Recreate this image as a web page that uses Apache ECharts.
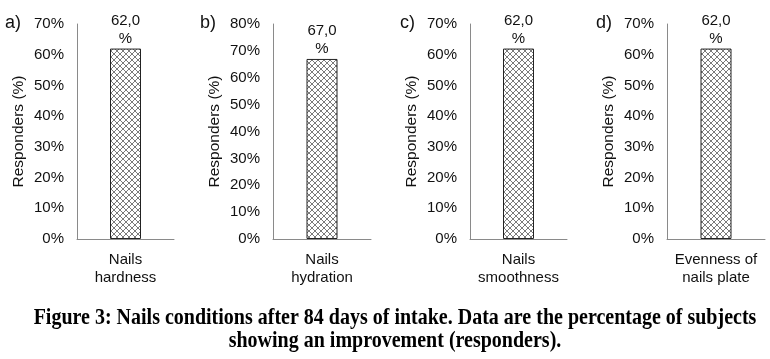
<!DOCTYPE html>
<html><head><meta charset="utf-8">
<script src="https://cdn.jsdelivr.net/npm/echarts@6/dist/echarts.min.js"></script>
<style>html,body{margin:0;padding:0;background:#fff}#c{width:770px;height:359px}</style>
</head><body><div id="c"></div>
<script>
var panelLetters = ['a)', 'b)', 'c)', 'd)'];
var categoriesA = ['Nails\nhardness'];
var categoriesB = ['Nails\nhydration'];
var categoriesC = ['Nails\nsmoothness'];
var categoriesD = ['Evenness of\nnails plate'];
var valuesA = [62.0];
var valuesB = [67.0];
var valuesC = [62.0];
var valuesD = [62.0];
var yMaxes = [70, 80, 70, 70];
var caption = 'Figure 3: Nails conditions after 84 days of intake. Data are the percentage of subjects\nshowing an improvement (responders).';

var cats = [categoriesA, categoriesB, categoriesC, categoriesD];
var vals = [valuesA, valuesB, valuesC, valuesD];

// crosshatch pattern
var pc = document.createElement('canvas');
pc.width = 6; pc.height = 6;
var g = pc.getContext('2d');
g.fillStyle = '#fff'; g.fillRect(0, 0, 6, 6);
g.strokeStyle = '#7a7a7a'; g.lineWidth = 1;
g.beginPath();
g.moveTo(-1, -1); g.lineTo(7, 7);
g.moveTo(-1, 7); g.lineTo(7, -1);
g.moveTo(5, -1); g.lineTo(7, 1);
g.moveTo(-1, 5); g.lineTo(1, 7);
g.moveTo(-1, 1); g.lineTo(1, -1);
g.moveTo(5, 7); g.lineTo(7, 5);
g.stroke();

var gridLeft = [77, 273, 470, 667];
var gridWidth = [97, 98, 97, 98];
var letterX = [5, 200, 400, 596];
var font = 'Liberation Sans, Arial, sans-serif';

var grids = [], xAxes = [], yAxes = [], series = [], graphics = [];
for (var i = 0; i < 4; i++) {
  grids.push({left: gridLeft[i], width: gridWidth[i], top: 24, height: 215});
  xAxes.push({
    type: 'category', gridIndex: i, data: cats[i],
    axisLine: {lineStyle: {color: '#8a8a8a', width: 1}},
    axisTick: {show: false},
    axisLabel: {color: '#111', fontFamily: font, fontSize: 15, lineHeight: 18, margin: 12}
  });
  yAxes.push({
    type: 'value', gridIndex: i, min: 0, max: yMaxes[i], interval: 10,
    splitLine: {show: false},
    axisLine: {show: true, lineStyle: {color: '#8a8a8a', width: 1}},
    axisTick: {show: false},
    axisLabel: {color: '#111', fontFamily: font, fontSize: 15, margin: 13, formatter: '{value}%'},
    name: 'Responders (%)', nameLocation: 'middle', nameGap: 50,
    nameTextStyle: {color: '#111', fontFamily: font, fontSize: 15.5}
  });
  series.push({
    type: 'bar', xAxisIndex: i, yAxisIndex: i, data: vals[i], barWidth: 31,
    itemStyle: {color: {image: pc, repeat: 'repeat'}, borderColor: '#222', borderWidth: 1},
    label: {show: true, position: 'top', distance: 1, color: '#111', fontFamily: font, fontSize: 15, lineHeight: 18,
      formatter: function (p) { return p.value.toFixed(1).replace('.', ',') + '\n%'; }}
  });
  graphics.push({type: 'text', left: letterX[i], top: 14,
    style: {text: panelLetters[i], font: '18px ' + font, fill: '#111'}});
}
graphics.push({type: 'text', x: 395, y: 306, scaleY: 1.12,
  style: {text: caption, font: 'bold 20px Liberation Serif, Times New Roman, serif', fill: '#000',
    textAlign: 'center', textVerticalAlign: 'top', lineHeight: 21}});

var chart = echarts.init(document.getElementById('c'), null, {renderer: 'canvas'});
chart.setOption({
  animation: false,
  backgroundColor: '#fff',
  grid: grids, xAxis: xAxes, yAxis: yAxes, series: series, graphic: graphics
});
</script></body></html>
